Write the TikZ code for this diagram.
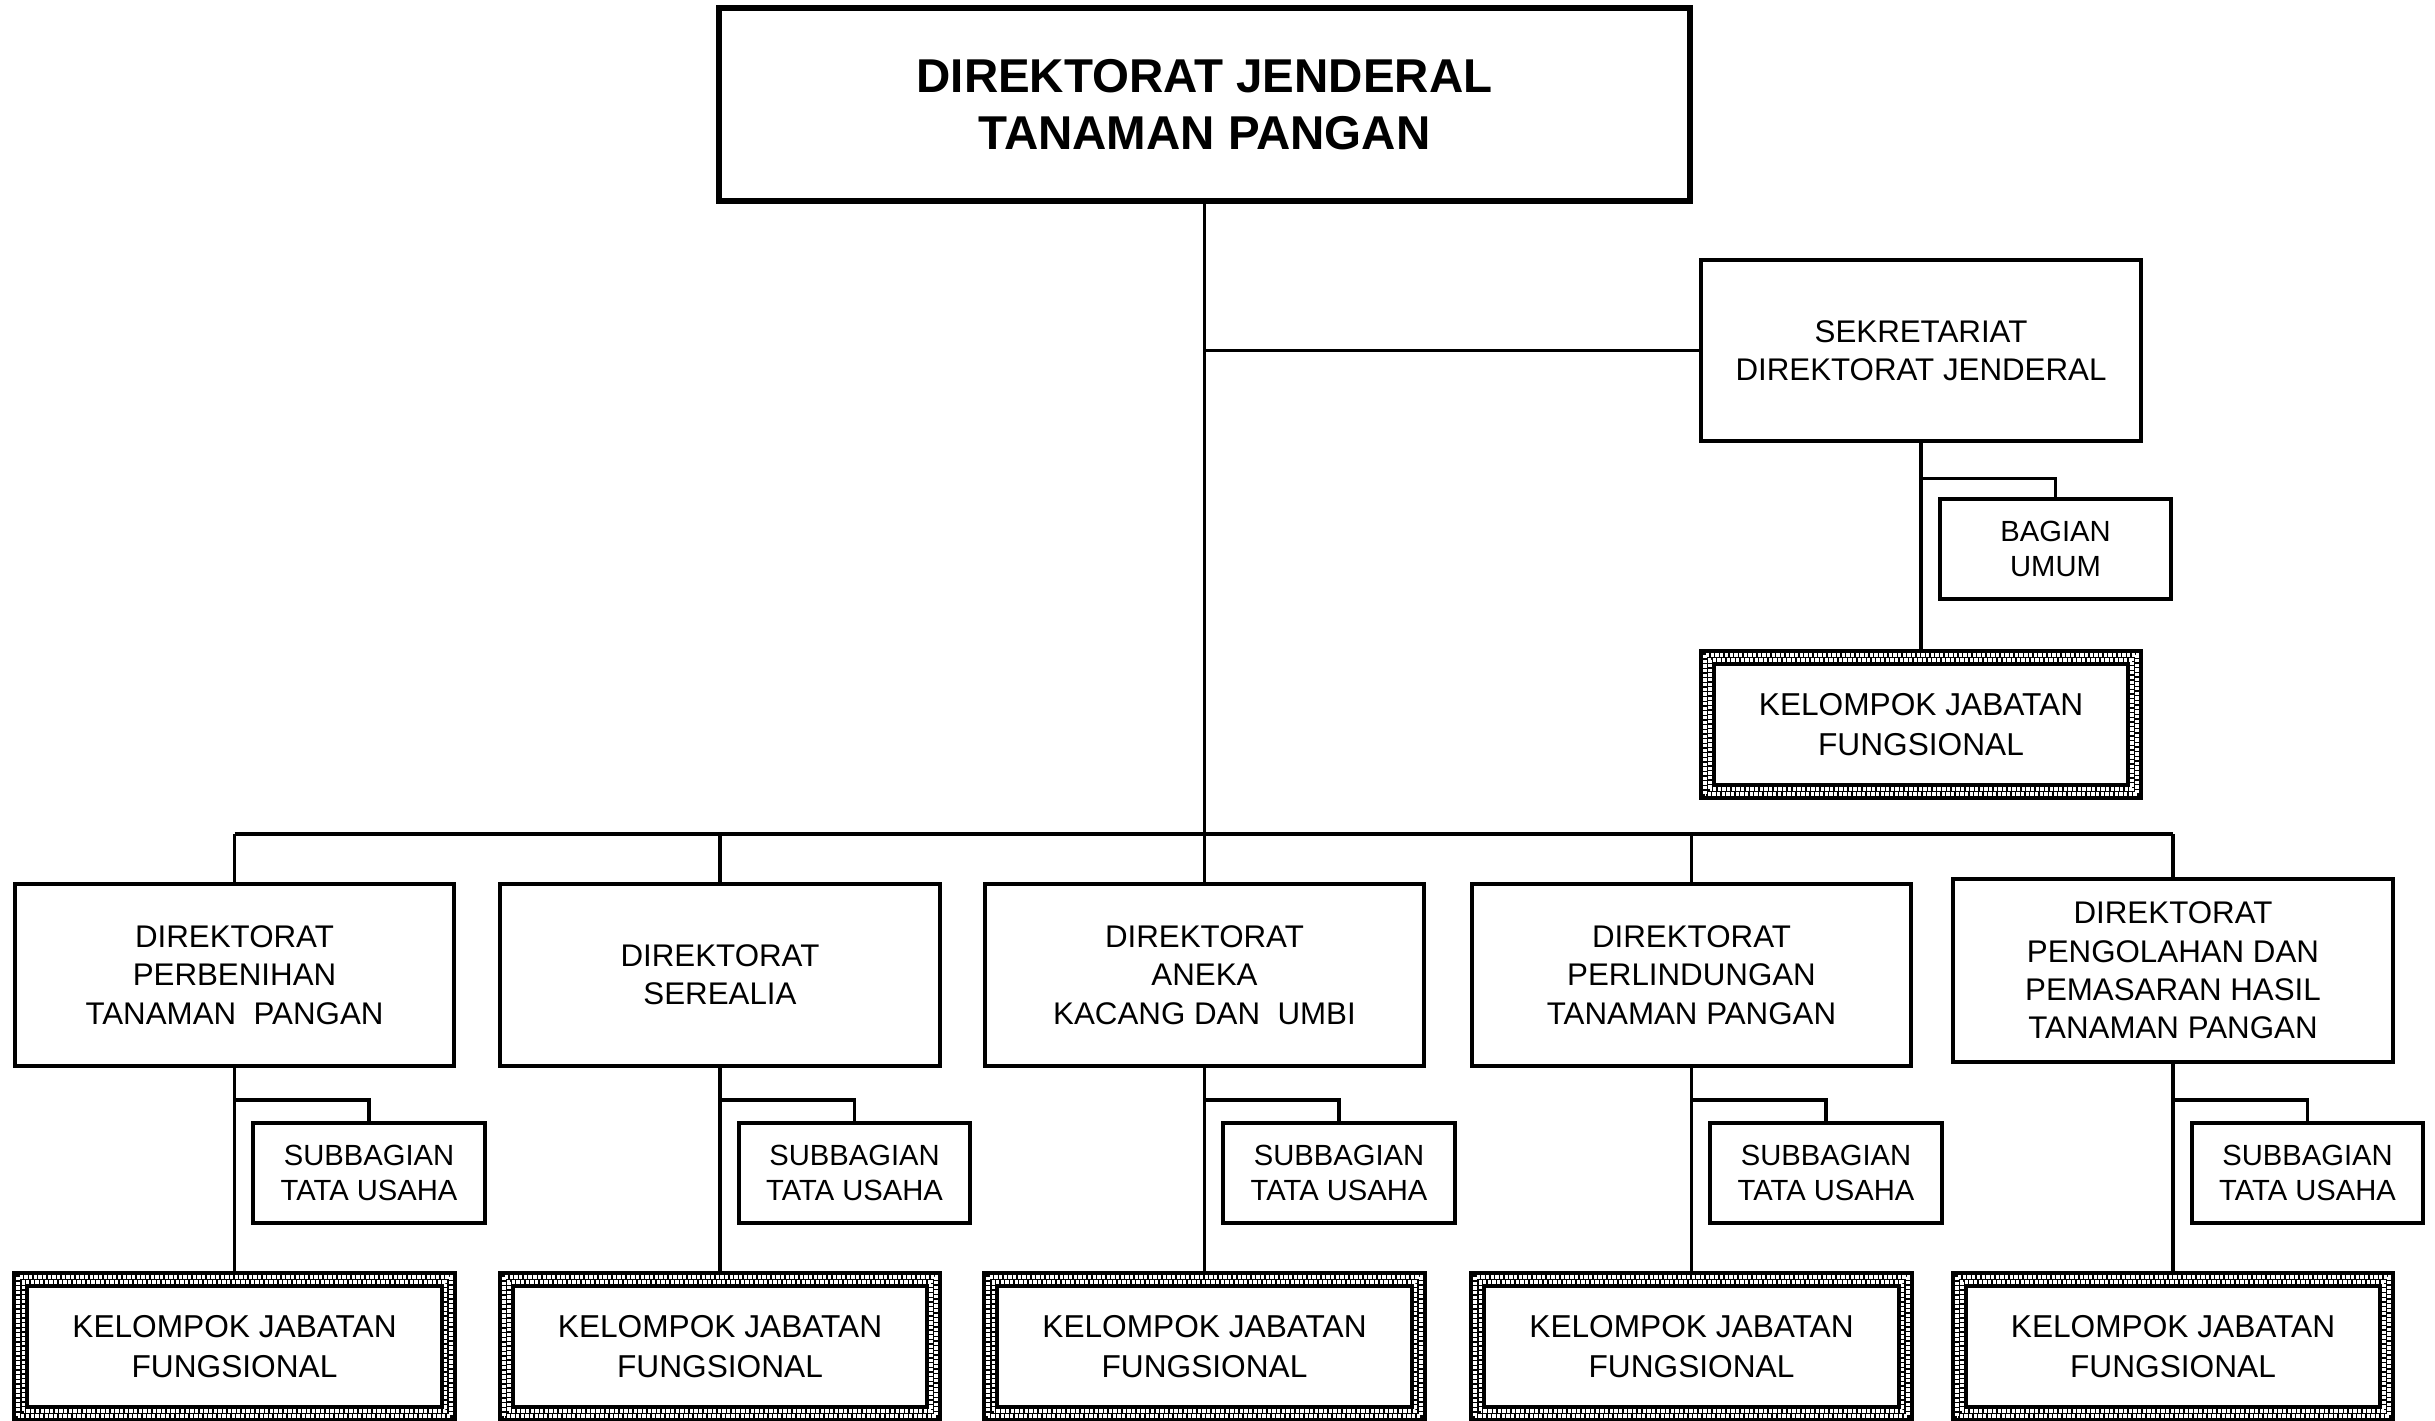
\documentclass[tikz,border=0pt]{standalone}
\usepackage{fontspec}
\setmainfont{Liberation Sans}
\usepackage{tikz}
\usetikzlibrary{positioning,calc}

\tikzstyle{kotak}=[draw, rectangle, line width=1.14pt, align=center, inner sep=0pt]
\tikzstyle{pimpinan}=[kotak, line width=1.7pt, minimum width=9.7cm, minimum height=1.92cm, font=\bfseries\fontsize{13.5}{16.4}\selectfont]
\tikzstyle{direktorat}=[kotak, minimum width=4.39cm, minimum height=1.82cm, font=\fontsize{8.9}{10.9}\selectfont]
\tikzstyle{subbagian}=[kotak, minimum width=2.31cm, minimum height=1cm, font=\fontsize{8.3}{10}\selectfont]
\tikzstyle{jabfung}=[kotak, minimum width=4.4cm, minimum height=1.47cm, font=\fontsize{9}{11.6}\selectfont,
path picture={
    \fill[black] (path picture bounding box.south west) rectangle (path picture bounding box.north east);
    \draw[white, line width=1.14pt, dash pattern=on .95pt off .38pt]
        ([shift={(.04cm,.04cm)}]path picture bounding box.south west) rectangle ([shift={(-.04cm,-.04cm)}]path picture bounding box.north east);
    \draw[white, line width=1pt, dash pattern=on .95pt off .38pt]
        ([shift={(.0925cm,.0925cm)}]path picture bounding box.south west) rectangle ([shift={(-.0925cm,-.0925cm)}]path picture bounding box.north east);
    \fill[white] ([shift={(.15cm,.15cm)}]path picture bounding box.south west) rectangle ([shift={(-.15cm,-.15cm)}]path picture bounding box.north east);
}]
\tikzstyle{garis}=[line width=1pt]

\begin{document}
\begin{tikzpicture}[x=0.01cm, y=-0.01cm]

\useasboundingbox (0,0) rectangle (2435,1421);

% pimpinan
\node[pimpinan] (djen) at (1204.5,104.5) {DIREKTORAT JENDERAL\\TANAMAN PANGAN};

% sekretariat
\node[direktorat, minimum width=4.4cm, minimum height=1.81cm] (sekr) at (1921,350.5) {SEKRETARIAT\\DIREKTORAT JENDERAL};
\node[subbagian] (umum) at (2055.5,549) {BAGIAN\\UMUM};
\node[jabfung] (jfsekr) at (1921,724.5) {KELOMPOK JABATAN\\FUNGSIONAL};

\draw[garis] (djen.south |- sekr.west) -- (sekr.west);
\draw[garis] (sekr.south) -- (jfsekr.north);
\draw[garis] (sekr.south) ++(0,35.5) -| (umum.north);

% direktorat
\node[direktorat] (benih) at (234.5,975) {DIREKTORAT\\PERBENIHAN\\TANAMAN\ \ PANGAN};
\node[direktorat] (serealia) at (720,975) {DIREKTORAT\\SEREALIA};
\node[direktorat] (aneka) at (1204.5,975) {DIREKTORAT\\ANEKA\\KACANG DAN\ \ UMBI};
\node[direktorat] (lindung) at (1691.5,975) {DIREKTORAT\\PERLINDUNGAN\\TANAMAN PANGAN};
\node[direktorat] (olah) at (2173,970.5) {DIREKTORAT\\PENGOLAHAN DAN\\PEMASARAN HASIL\\TANAMAN PANGAN};

\coordinate (bus) at (0,834);
\coordinate (cabang) at (0,1100);
\draw[garis] (djen.south) -- (aneka.north);
\draw[garis] (benih.north |- bus) -- (olah.north |- bus);

\foreach \n/\x in {benih/234.5, serealia/720, aneka/1204.5, lindung/1691.5, olah/2173}
{
    \node[subbagian] (tu\n) at (\x+134.5,1173) {SUBBAGIAN\\TATA USAHA};
    \node[jabfung] (jf\n) at (\x,1346.5) {KELOMPOK JABATAN\\FUNGSIONAL};
    \draw[garis] (\n.north |- bus) -- (\n.north);
    \draw[garis] (\n.south) -- (jf\n.north);
    \draw[garis] (\n.south |- cabang) -| (tu\n.north);
}

\end{tikzpicture}
\end{document}
